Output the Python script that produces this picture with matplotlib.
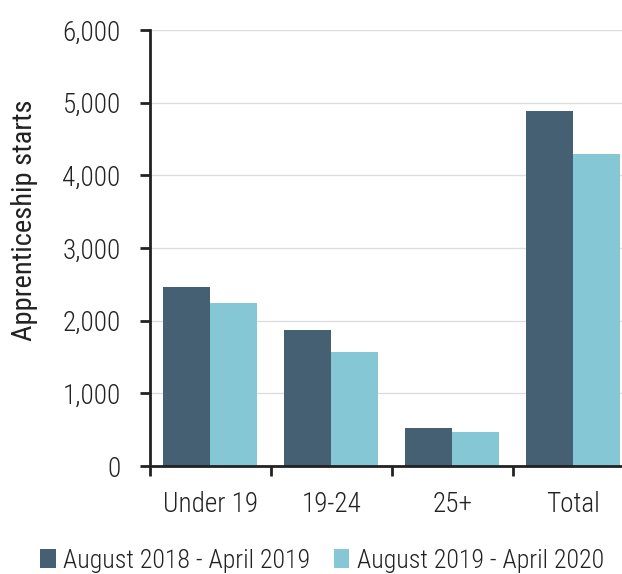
import numpy as np
import matplotlib
matplotlib.use("Agg")
import matplotlib.pyplot as plt
from matplotlib.ticker import FuncFormatter, FixedLocator

plt.rcParams["font.family"] = ["Roboto Condensed", "DejaVu Sans"]
plt.rcParams["font.weight"] = "light"

categories = ["Under 19", "19-24", "25+", "Total"]
starts_1819 = [2470, 1875, 530, 4880]
starts_1920 = [2240, 1570, 470, 4290]
labels = ["August 2018 - April 2019", "August 2019 - April 2020"]
dark = "#466073"
light = "#86c7d6"
ink = "#222222"

fig = plt.figure(figsize=(6.22, 5.74), dpi=100)
ax = fig.add_axes([0.241, 0.188, 0.778, 0.76])

x = np.arange(len(categories))
w = 0.388
ax.bar(x - w / 2, starts_1819, w, color=dark, label=labels[0], zorder=3)
ax.bar(x + w / 2, starts_1920, w, color=light, label=labels[1], zorder=3)

ax.set_xlim(-0.5, 3.5)
ax.set_ylim(0, 6000)
ax.set_yticks(range(0, 6001, 1000))
ax.yaxis.set_major_formatter(FuncFormatter(lambda v, p: f"{int(v):,}"))
ax.set_xticks(x)
ax.set_xticklabels(categories)
ax.xaxis.set_minor_locator(FixedLocator([-0.5, 0.5, 1.5, 2.5]))
ax.tick_params(axis="x", which="major", length=0, pad=18, labelsize=19.5, colors=ink)
ax.tick_params(axis="x", which="minor", length=7, width=2, color=ink, direction="out")
ax.tick_params(axis="y", length=7, width=2, color=ink, labelsize=19.5, pad=14, labelcolor=ink)
ax.grid(axis="y", color="#dddddd", lw=1, zorder=0)
for s in ["top", "right"]:
    ax.spines[s].set_visible(False)
for s in ["left", "bottom"]:
    ax.spines[s].set_linewidth(2)
    ax.spines[s].set_color(ink)
ax.spines["bottom"].set_zorder(4)
ax.set_ylabel("Apprenticeship starts", fontsize=20.5, color=ink)
ax.yaxis.set_label_coords(-0.232, 0.564)

fig.legend(loc="lower center", bbox_to_anchor=(0.518, -0.038), ncol=2, frameon=False,
           fontsize=18.6, handlelength=0.6, handleheight=0.7, handletextpad=0.3,
           columnspacing=0.9, labelcolor=ink)

fig.savefig("out.png", dpi=100)
